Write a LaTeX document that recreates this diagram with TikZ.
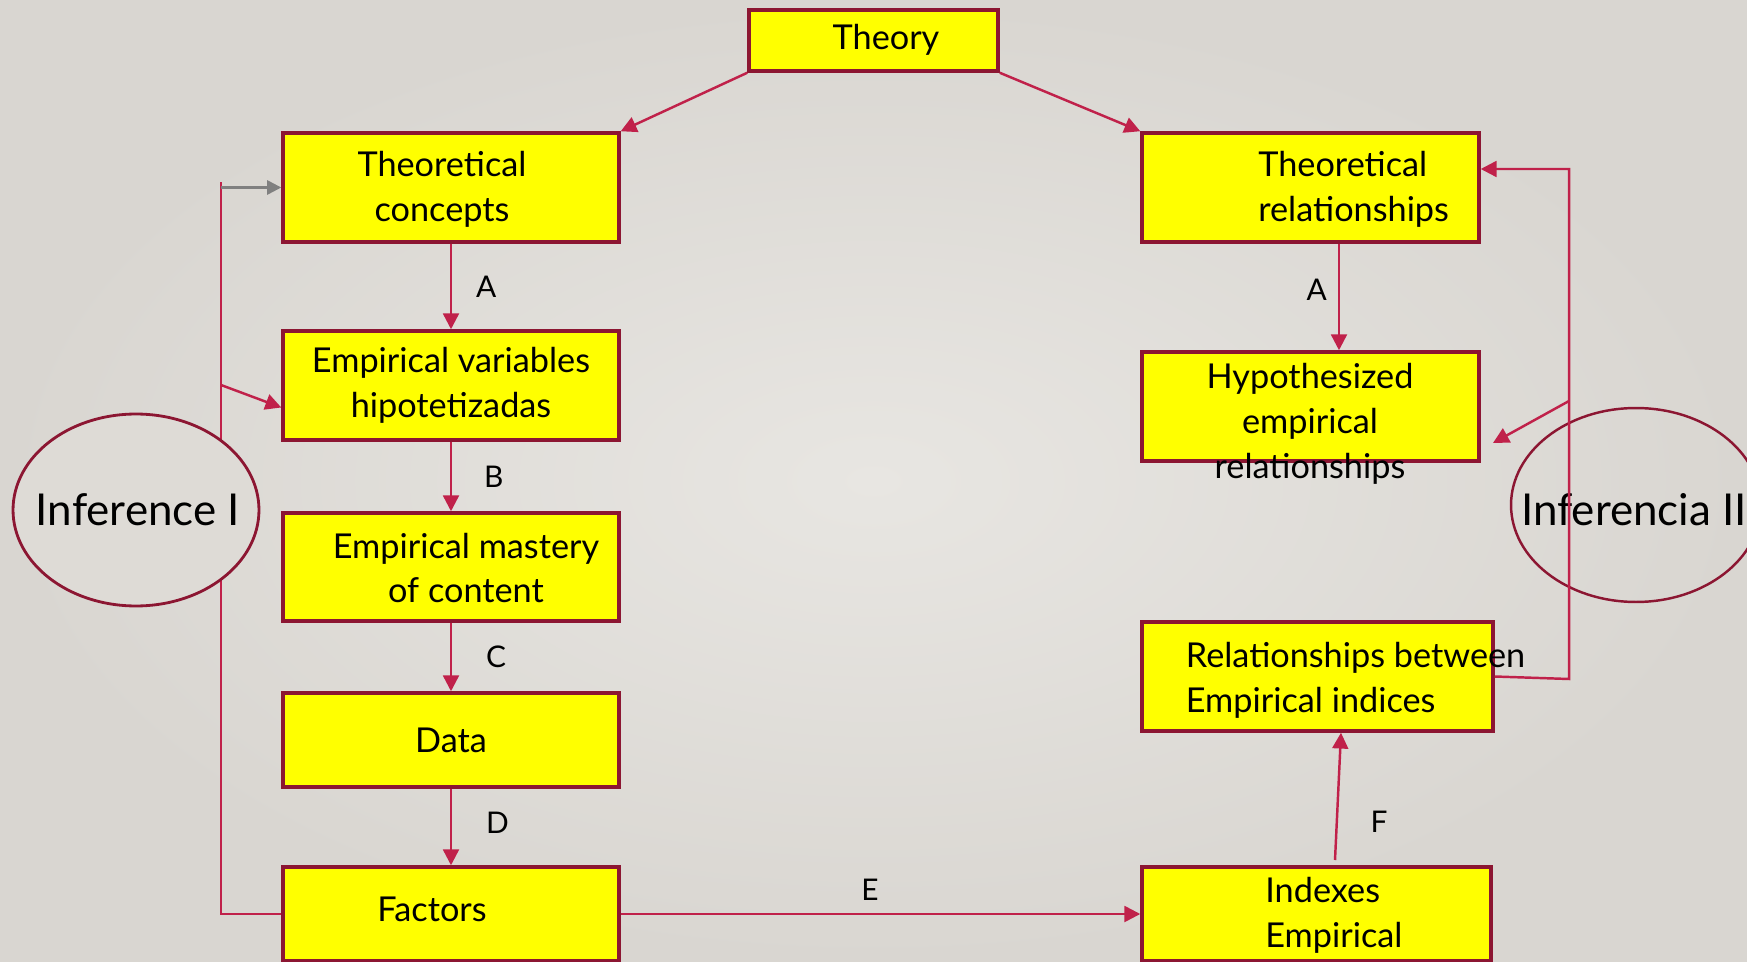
\documentclass[tikz,border=0pt]{standalone}
\usepackage{fontspec}
\setmainfont{Lato}
\usetikzlibrary{arrows.meta, positioning, shapes.geometric, calc}
\definecolor{cyellow}{HTML}{FFFF00}
\definecolor{cframe}{HTML}{8C1632}
\definecolor{cred}{HTML}{C0214A}
\definecolor{cgrey}{HTML}{808080}
\definecolor{cbgin}{HTML}{E8E6E2}
\definecolor{cbgout}{HTML}{D9D6D1}
\definecolor{cbg}{HTML}{DEDBD6}
\tikzset{
  box/.style={draw=cframe, fill=cyellow, line width=2pt, minimum width=6.72cm, minimum height=2.18cm, inner sep=0pt, align=center, font=\fontsize{19.5}{25.5}\selectfont},
  txt/.style={inner sep=0pt, align=#1, font=\fontsize{19.5}{25.5}\selectfont},
  txt/.default=center,
  lbl/.style={inner sep=0pt, font=\fontsize{17}{20}\selectfont},
  infer/.style={ellipse, draw=cframe, line width=1.6pt, inner sep=0pt},
  infertxt/.style={inner sep=0pt, font=\fontsize{25}{30}\selectfont},
  arr/.style={-{Triangle[length=9pt, width=9pt]}, draw=cred, line width=1.4pt},
  loopline/.style={draw=cred, line width=1pt},
}
\begin{document}
\begin{tikzpicture}[x=0.02cm, y=-0.02cm]
  \useasboundingbox (0,0) rectangle (1747,962);
  \clip (0,0) rectangle (1747,962);
  % background
  \shade[inner color=cbgin, outer color=cbgout] (0,0) rectangle (1747,962);
  % left column
  \node[box, minimum width=4.98cm, minimum height=1.22cm] (theory) at (873.5,40.5) {};
  \node[txt] (theory-t) at (886,40) {Theory};
  \node[box] (tc) at (451,187.5) {};
  \node[txt] (tc-t) at (442,189) {Theoretical\\concepts};
  \node[box] (ev) at (451,385.5) {Empirical variables\\hipotetizadas};
  \node[box, minimum height=2.16cm] (em) at (451,567) {};
  \node[txt] (em-t) at (466,568) {Empirical mastery\\of content};
  \node[box, minimum height=1.88cm] (data) at (451,740) {Data};
  \node[box, minimum height=1.88cm] (fac) at (451,914) {};
  \node[txt] (fac-t) at (432,909) {Factors};
  % right column
  \node[box, minimum width=6.74cm] (tr) at (1310.5,187.5) {};
  \node[txt=left, anchor=west] (tr-t) at (1258,189) {Theoretical\\relationships};
  \node[box, minimum width=6.74cm] (hyp) at (1310.5,406.5) {};
  \node[txt] (hyp-t) at (1310,424) {Hypothesized\\empirical\\relationships};
  \node[box, minimum width=7.02cm] (rb) at (1317.5,676.5) {};
  \node[txt=left, anchor=west] (rb-t) at (1185.5,680) {Relationships between\\Empirical indices};
  \node[box, minimum width=6.98cm, minimum height=1.88cm] (ix) at (1316.5,914) {};
  \node[txt=left, anchor=west] (ix-t) at (1265,915) {Indexes\\Empirical};
  % theory links
  \draw[arr] (theory.south west) -- (tc.north east);
  \draw[arr] (theory.south east) -- (tr.north west);
  % chain A-E
  \draw[arr] (tc) -- node[lbl, right=0.48cm] {A} (ev);
  \draw[arr] (ev) -- node[lbl, right=0.64cm] {B} (em);
  \draw[arr] (em) -- node[lbl, right=0.68cm] {C} (data);
  \draw[arr] (data) -- node[lbl, right=0.68cm, pos=0.45] {D} (fac);
  \draw[arr] (fac) -- node[lbl, above=0.25cm, pos=0.48] {E} (ix);
  \draw[arr] ([xshift=0.57cm]tr.south) -- node[lbl, left=0.22cm, pos=0.43] {A} ([xshift=0.57cm]hyp.north);
  \coordinate (fs) at (1335,860);
  \draw[arr] (fs) -- node[lbl, right=0.65cm, pos=0.3] {F} ([xshift=0.47cm]rb.south);
  % inference I loop
  \coordinate (lt) at (221,182);
  \coordinate (lm) at (221,385);
  \coordinate (lb) at (221,914);
  \draw[loopline] (fac.west) -- (lb) -- (lt);
  \draw[-{Triangle[length=8pt, width=8pt]}, draw=cgrey, line width=1.4pt] (lt |- tc.west) -- (tc.west);
  \draw[arr] (lm) -- ([yshift=-0.44cm]ev.west);
  \node[infer, fill=cbg, minimum width=4.92cm, minimum height=3.84cm] (inf1) at (136,510) {};
  \node[infertxt] (inf1-t) at (138,510) {Inference I};
  % inference II loop
  \node[infer, line width=1.4pt, minimum width=5.0cm, minimum height=3.88cm] (inf2) at (1636,505) {};
  \node[infertxt] (inf2-t) at (1634,510) {Inferencia II};
  \coordinate (rt) at (1569,169);
  \coordinate (rm) at (1569,401);
  \coordinate (rc) at (1569,679);
  \coordinate (he) at (1493,443);
  \draw[arr] (rb.east) -- (rc) -- (rt) -- ([yshift=0.37cm]tr.east);
  \draw[arr] (rm) -- (he);
\end{tikzpicture}
\end{document}
